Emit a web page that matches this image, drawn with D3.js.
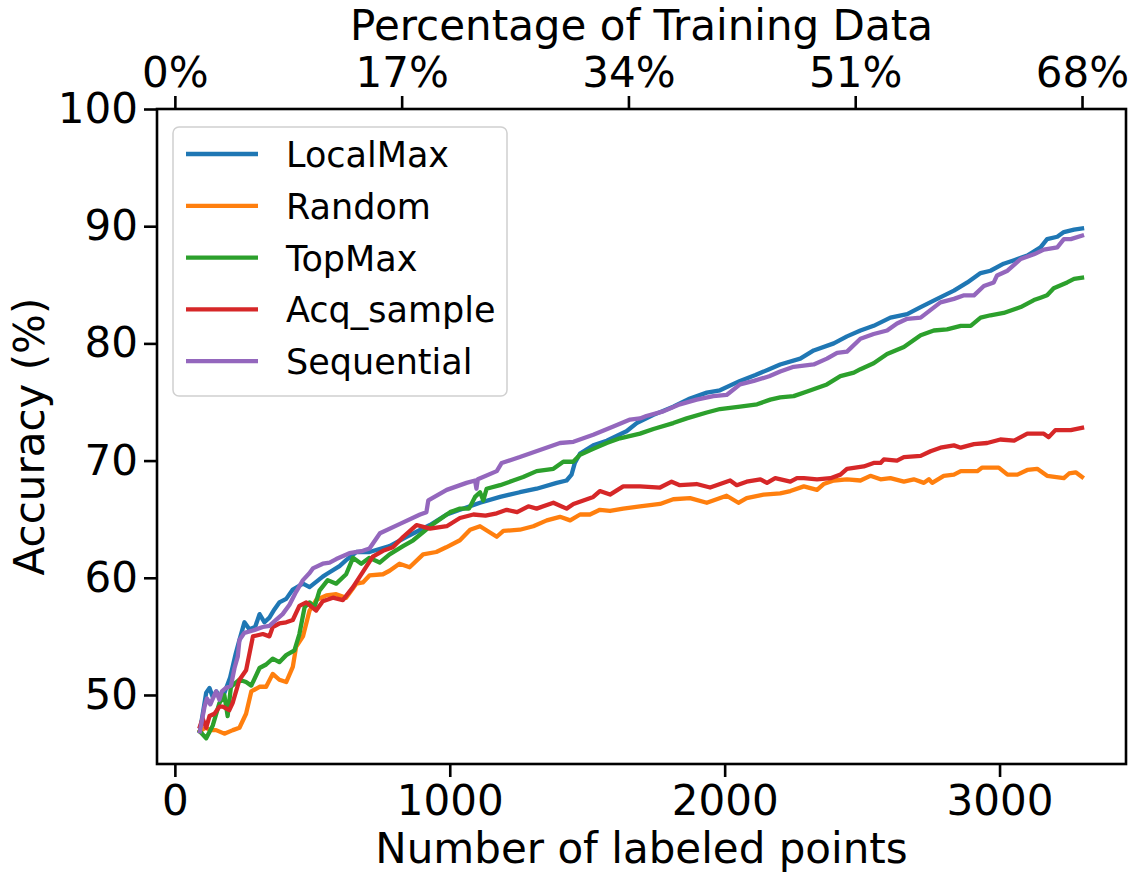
<!DOCTYPE html>
<html>
<head>
<meta charset="utf-8">
<script src="https://cdn.jsdelivr.net/npm/d3@7/dist/d3.min.js"></script>
<style>
  html, body { margin: 0; padding: 0; background: #fff; }
  svg { display: block; }
  text { font-family: "DejaVu Sans", sans-serif; fill: #000; }
</style>
</head>
<body>
<svg id="chart" width="1136" height="882"></svg>
<script>
// ---------- data ----------
const seriesNames = ["LocalMax", "Random", "TopMax", "Acq_sample", "Sequential"];
const seriesColors = ["#1f77b4", "#ff7f0e", "#2ca02c", "#d62728", "#9467bd"];

const localMax = [[91,46.9],[114,50.2],[126,50.6],[138,49.8],[151,50.3],[171,49.6],[201,51.5],[221,53.5],[235,54.7],[253,56.2],[271,55.6],[292,55.8],[308,56.9],[326,56.2],[344,56.6],[362,57.3],[380,57.9],[405,58.2],[429,59.0],[466,59.5],[490,59.2],[538,60.1],[551,60.3],[599,61.0],[623,61.5],[660,62.2],[708,62.2],[781,62.7],[843,63.5],[928,64.5],[989,65.4],[1037,65.8],[1110,66.4],[1183,66.9],[1255,67.3],[1316,67.6],[1389,68.1],[1425,68.3],[1443,68.8],[1455,69.8],[1474,70.6],[1522,71.3],[1571,71.7],[1643,72.5],[1680,73.2],[1741,73.9],[1813,74.6],[1874,75.3],[1935,75.8],[1983,76.0],[2056,76.8],[2112,77.3],[2162,77.8],[2202,78.2],[2275,78.7],[2324,79.4],[2397,80.0],[2445,80.6],[2494,81.1],[2542,81.5],[2603,82.2],[2664,82.5],[2713,83.1],[2773,83.8],[2834,84.5],[2883,85.2],[2931,86.0],[2967,86.2],[3015,86.8],[3053,87.1],[3101,87.5],[3149,88.2],[3173,88.9],[3210,89.1],[3234,89.5],[3271,89.7],[3300,89.8]];

const random = [[91,46.9],[111,47.2],[131,47.0],[150,47.0],[180,46.7],[211,47.0],[235,47.2],[259,48.4],[278,50.3],[308,50.7],[332,50.7],[356,51.8],[380,51.3],[405,51.1],[429,52.4],[441,54.1],[466,55.0],[490,57.2],[514,58.1],[551,58.5],[587,58.6],[623,58.3],[660,59.5],[684,59.6],[708,60.2],[757,60.3],[781,60.6],[817,61.2],[854,60.9],[903,62.0],[951,62.2],[987,62.6],[1037,63.2],[1074,64.1],[1110,64.4],[1171,63.5],[1195,64.0],[1255,64.1],[1304,64.4],[1353,64.9],[1401,65.2],[1438,64.9],[1474,65.4],[1510,65.4],[1546,65.8],[1583,65.7],[1631,65.9],[1692,66.1],[1765,66.3],[1813,66.7],[1874,66.8],[1935,66.4],[2007,67.0],[2050,66.4],[2080,66.8],[2142,67.1],[2202,67.2],[2239,67.4],[2288,67.8],[2336,67.5],[2360,68.0],[2397,68.3],[2445,68.4],[2494,68.3],[2530,68.7],[2567,68.4],[2603,68.5],[2652,68.2],[2688,68.4],[2725,68.1],[2743,68.4],[2755,68.1],[2797,68.7],[2834,68.8],[2859,69.1],[2919,69.1],[2937,69.4],[2997,69.4],[3029,68.8],[3065,68.8],[3101,69.2],[3137,69.3],[3173,68.7],[3234,68.5],[3253,68.9],[3277,69.0],[3300,68.6]];

const topMax = [[91,46.9],[114,46.3],[138,47.4],[162,49.3],[180,50.0],[192,48.2],[204,50.7],[235,51.3],[259,51.1],[278,50.8],[308,52.3],[332,52.6],[356,53.1],[380,52.8],[405,53.4],[435,53.8],[453,55.2],[472,57.5],[490,57.9],[508,57.5],[526,58.9],[556,59.8],[587,59.5],[623,60.3],[648,61.7],[678,61.2],[708,61.7],[745,61.3],[781,62.0],[830,62.7],[867,63.2],[940,64.6],[1001,65.6],[1037,65.9],[1070,65.9],[1092,66.9],[1110,67.3],[1122,66.6],[1134,67.6],[1183,67.9],[1231,68.3],[1267,68.6],[1316,69.1],[1377,69.3],[1413,69.9],[1449,69.9],[1474,70.5],[1522,71.0],[1571,71.5],[1619,71.9],[1692,72.3],[1741,72.7],[1813,73.2],[1862,73.6],[1935,74.1],[1983,74.4],[2056,74.6],[2118,74.8],[2166,75.2],[2202,75.4],[2251,75.5],[2300,75.9],[2372,76.5],[2421,77.2],[2470,77.5],[2494,77.8],[2542,78.3],[2591,79.1],[2652,79.7],[2713,80.7],[2761,81.1],[2809,81.2],[2859,81.5],[2895,81.5],[2931,82.2],[2967,82.4],[3015,82.6],[3077,83.1],[3125,83.7],[3149,83.9],[3173,84.1],[3197,84.7],[3246,85.2],[3271,85.5],[3300,85.6]];

const acqSample = [[91,47.3],[101,48.0],[114,47.2],[126,48.2],[144,48.4],[162,49.0],[174,49.0],[198,48.7],[210,49.3],[235,51.3],[259,52.1],[284,55.0],[320,55.2],[344,55.0],[356,55.8],[380,56.1],[405,56.2],[429,56.4],[453,57.6],[478,57.9],[514,57.2],[538,58.0],[575,58.3],[611,58.1],[648,59.2],[684,60.5],[720,61.8],[757,62.3],[793,62.6],[831,63.5],[879,64.5],[928,64.2],[989,64.4],[1037,65.1],[1086,65.4],[1130,65.3],[1171,65.5],[1207,65.8],[1245,65.6],[1286,66.1],[1316,65.9],[1377,66.4],[1425,65.9],[1450,66.3],[1522,66.9],[1546,67.4],[1583,67.1],[1631,67.8],[1692,67.8],[1765,67.7],[1807,68.2],[1837,67.9],[1898,68.0],[1947,67.7],[2020,68.3],[2044,67.9],[2080,68.2],[2130,68.4],[2154,68.1],[2184,68.5],[2239,68.2],[2263,68.5],[2288,68.5],[2336,68.4],[2385,68.5],[2421,68.8],[2445,69.3],[2506,69.5],[2542,69.8],[2567,69.8],[2579,70.1],[2627,70.0],[2652,70.3],[2713,70.4],[2749,70.8],[2785,71.1],[2834,71.3],[2859,71.1],[2907,71.4],[2955,71.5],[3003,71.8],[3053,71.7],[3101,72.3],[3161,72.3],[3179,72.0],[3203,72.6],[3259,72.6],[3300,72.8]];

const sequential = [[91,46.9],[108,49.0],[117,49.7],[129,49.2],[144,50.0],[150,50.3],[162,49.6],[171,50.3],[186,50.6],[204,50.8],[217,52.3],[229,53.3],[235,54.7],[253,55.3],[284,55.5],[320,55.8],[344,55.9],[368,56.4],[392,56.9],[417,57.7],[441,58.8],[466,59.8],[490,60.4],[502,60.8],[538,61.2],[563,61.3],[587,61.6],[635,62.1],[684,62.3],[708,62.5],[746,63.8],[819,64.6],[892,65.4],[915,65.6],[922,66.6],[989,67.5],[1061,68.1],[1092,68.3],[1097,67.6],[1102,68.4],[1171,69.1],[1189,69.8],[1255,70.3],[1328,70.9],[1401,71.5],[1450,71.6],[1522,72.2],[1595,72.9],[1656,73.5],[1692,73.6],[1715,73.8],[1777,74.2],[1837,74.8],[1898,75.2],[1959,75.5],[2007,75.6],[2056,76.5],[2106,76.8],[2162,77.2],[2202,77.6],[2251,78.0],[2324,78.2],[2372,78.7],[2409,79.2],[2445,79.3],[2494,80.4],[2542,80.8],[2591,81.1],[2627,81.7],[2664,82.1],[2713,82.2],[2785,83.5],[2834,83.8],[2871,84.1],[2907,84.1],[2943,84.9],[2979,85.2],[2991,85.8],[3029,86.2],[3077,87.2],[3125,87.6],[3161,88.0],[3210,88.2],[3234,88.9],[3259,88.9],[3300,89.2]];

const bottomTicks = [0, 1000, 2000, 3000];
const topTickValues = [0, 825, 1650, 2475, 3300];
const topTickLabels = ["0%", "17%", "34%", "51%", "68%"];
const yTicks = [50, 60, 70, 80, 90, 100];

const xTitle = "Number of labeled points";
const topTitle = "Percentage of Training Data";
const yTitle = "Accuracy (%)";

// ---------- layout ----------
const plot = { left: 157, right: 1126, top: 109, bottom: 764 };
const svg = d3.select("#chart");
svg.append("rect").attr("width", 1136).attr("height", 882).attr("fill", "#fff");

const x = d3.scaleLinear().domain([-65, 3460]).range([plot.left, plot.right]);
const y = d3.scaleLinear().domain([44.11, 100]).range([plot.bottom, plot.top]);

const allSeries = [localMax, random, topMax, acqSample, sequential];

// lines
svg.append("clipPath").attr("id", "clip").append("rect")
  .attr("x", plot.left).attr("y", plot.top)
  .attr("width", plot.right - plot.left).attr("height", plot.bottom - plot.top);

const line = d3.line().x(d => x(d[0])).y(d => y(d[1]));
const gLines = svg.append("g").attr("clip-path", "url(#clip)");
allSeries.forEach((s, i) => {
  gLines.append("path")
    .datum(s)
    .attr("d", line)
    .attr("fill", "none")
    .attr("stroke", seriesColors[i])
    .attr("stroke-width", 4.3)
    .attr("stroke-linejoin", "round")
    .attr("stroke-linecap", "square");
});

// axes
const FS = 42;
function styleAxis(g) {
  g.select(".domain").remove();
  g.selectAll(".tick line").attr("stroke", "#000").attr("stroke-width", 2.6);
  g.selectAll(".tick text").attr("font-size", FS).attr("font-family", "DejaVu Sans").attr("fill", "#000");
}

svg.append("g")
  .attr("transform", `translate(0,${plot.bottom})`)
  .call(d3.axisBottom(x).tickValues(bottomTicks).tickFormat(d3.format("d")).tickSize(13).tickPadding(8))
  .call(styleAxis);

svg.append("g")
  .attr("transform", `translate(0,${plot.top})`)
  .call(d3.axisTop(x).tickValues(topTickValues).tickFormat((d, i) => topTickLabels[i]).tickSize(13).tickPadding(9))
  .call(styleAxis);

svg.append("g")
  .attr("transform", `translate(${plot.left},0)`)
  .call(d3.axisLeft(y).tickValues(yTicks).tickFormat(d3.format("d")).tickSize(13).tickPadding(6))
  .call(styleAxis);

// frame
svg.append("rect")
  .attr("x", plot.left).attr("y", plot.top)
  .attr("width", plot.right - plot.left).attr("height", plot.bottom - plot.top)
  .attr("fill", "none").attr("stroke", "#000").attr("stroke-width", 2.6);

// titles
const cx = (plot.left + plot.right) / 2;
svg.append("text").attr("x", cx).attr("y", 863).attr("text-anchor", "middle")
  .attr("font-size", FS).text(xTitle);
svg.append("text").attr("x", cx).attr("y", 40).attr("text-anchor", "middle")
  .attr("font-size", FS).text(topTitle);
svg.append("text")
  .attr("transform", `translate(44,${(plot.top + plot.bottom) / 2}) rotate(-90)`)
  .attr("text-anchor", "middle").attr("font-size", FS).text(yTitle);

// legend
const leg = svg.append("g");
leg.append("rect")
  .attr("x", 173).attr("y", 127).attr("width", 334).attr("height", 269)
  .attr("rx", 6).attr("ry", 6)
  .attr("fill", "#fff").attr("fill-opacity", 0.8)
  .attr("stroke", "#d0d0d0").attr("stroke-width", 1.5);
seriesNames.forEach((name, i) => {
  const yy = 154 + i * 51.8;
  leg.append("line")
    .attr("x1", 186).attr("x2", 258).attr("y1", yy).attr("y2", yy)
    .attr("stroke", seriesColors[i]).attr("stroke-width", 4.3);
  leg.append("text")
    .attr("x", 286).attr("y", yy + 13)
    .attr("font-size", 35).text(name);
});
</script>
</body>
</html>
